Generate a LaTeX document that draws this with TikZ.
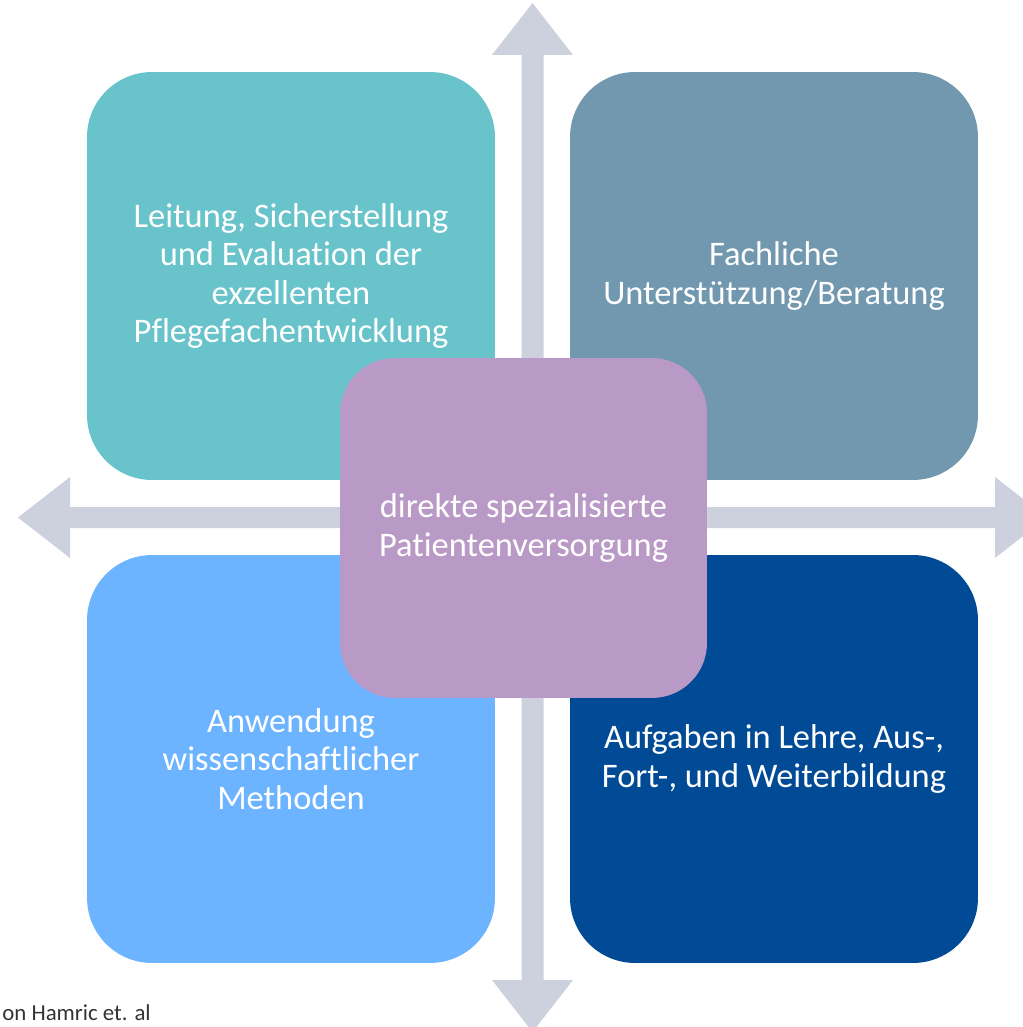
\documentclass[tikz,border=0pt]{standalone}
\usepackage{fontspec}
\setmainfont[Ligatures=NoCommon]{Carlito}
\usepackage{tikz}

\definecolor{arrowgray}{HTML}{CDD1DE}
\definecolor{teal}{HTML}{68C3CB}
\definecolor{slate}{HTML}{7298B0}
\definecolor{lightblue}{HTML}{6CB4FF}
\definecolor{darkblue}{HTML}{004A96}
\definecolor{lilac}{HTML}{B99AC6}

\tikzset{
  field/.style={rounded corners=1.3cm, minimum width=8.16cm, minimum height=8.16cm,
    align=center, text=white, font=\fontsize{19.6}{21.8}\selectfont},
  core/.style={field, rounded corners=1.1cm, minimum width=7.34cm, minimum height=6.8cm}
}

\begin{document}
\begin{tikzpicture}[x=0.02cm, y=-0.02cm]

    \useasboundingbox (0, 0) rectangle (1023, 1027);
    \clip (0, 0) rectangle (1023, 1027);

    % cross of arrows
    \fill [arrowgray] (521.5, 55) -- (492, 55) -- (532.5, 3) -- (573, 55) -- (543.5, 55)
      -- (543.5, 980) -- (573, 980) -- (532.5, 1032) -- (492, 980) -- (521.5, 980) -- cycle;
    \fill [arrowgray] (70, 507) -- (70, 477) -- (18, 517.5) -- (70, 558) -- (70, 528)
      -- (995, 528) -- (995, 558) -- (1047, 517.5) -- (995, 477) -- (995, 507) -- cycle;

    \node (lead) [field, fill=teal] at (291, 276) {Leitung, Sicherstellung\\ und Evaluation der\\ exzellenten\\ Pflegefachentwicklung};
    \node (advice) [field, fill=slate] at (774, 276) {Fachliche\\ Unterstützung/Beratung};
    \node (science) [field, fill=lightblue] at (291, 759) {Anwendung\\ wissenschaftlicher\\ Methoden};
    \node (teach) [field, fill=darkblue] at (774, 759) {Aufgaben in Lehre, Aus-,\\ Fort-, und Weiterbildung};
    \node (care) [core, fill=lilac] at (523.5, 528) {direkte spezialisierte\\ Patientenversorgung};

    \node (source) [anchor=north west, inner sep=0pt, text=black!80, font=\fontsize{13}{15}\selectfont] at (2, 1004) {on Hamric et. al};

  \end{tikzpicture}
\end{document}
